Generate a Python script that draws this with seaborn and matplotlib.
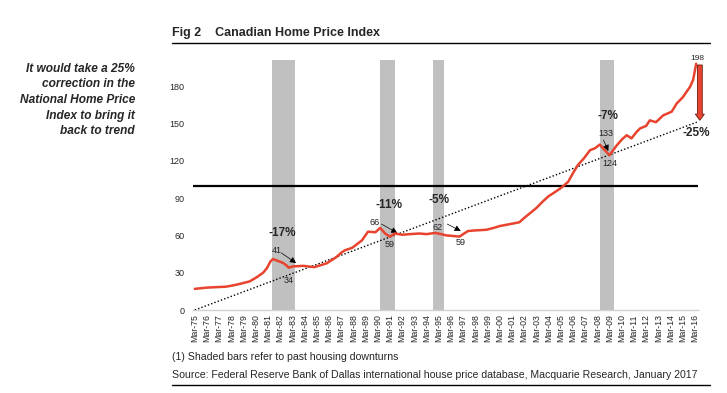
import pandas as pd
import seaborn as sns
import matplotlib
matplotlib.use("Agg")
import matplotlib.pyplot as plt
from matplotlib.lines import Line2D

# Canadian home price index (decimal year, index value)
hpi_year = [1975.0, 1975.5, 1976.0, 1977.0, 1977.5, 1978.0, 1978.7, 1979.5, 1980.1, 1980.6,
            1980.9, 1981.2, 1981.4, 1981.8, 1982.2, 1982.5, 1982.7, 1983.0, 1983.9, 1984.3,
            1984.8, 1985.3, 1985.8, 1986.2, 1986.6, 1987.0, 1987.3, 1987.9, 1988.3, 1988.7,
            1989.2, 1989.8, 1990.2, 1990.6, 1991.0, 1991.4, 1992.0, 1992.6, 1993.4, 1994.0,
            1994.7, 1995.2, 1995.6, 1996.2, 1996.7, 1997.0, 1997.4, 1998.0, 1998.9, 1999.5,
            2000.0, 2000.8, 2001.6, 2002.0, 2002.5, 2003.0, 2003.5, 2004.0, 2004.4, 2005.0,
            2005.6, 2006.0, 2006.4, 2006.9, 2007.4, 2007.8, 2008.2, 2008.6, 2009.0, 2009.6,
            2010.0, 2010.4, 2010.8, 2011.2, 2011.5, 2012.0, 2012.3, 2012.8, 2013.4, 2014.1,
            2014.5, 2015.0, 2015.6, 2015.85, 2016.1]
hpi_value = [17, 17.5, 18, 18.5, 18.7, 19.5, 21, 23, 26.5, 30,
             33.5, 39, 41, 39.5, 38, 36, 34, 35, 35.5, 35,
             34.5, 36, 37.5, 40, 42.5, 46, 48, 50, 53, 56,
             63, 62.5, 66, 61.5, 59, 61.5, 60.5, 61, 61.5, 61,
             62, 61, 60, 59.5, 59, 61, 63.5, 64, 64.5, 66,
             67.5, 69, 70.5, 74, 78, 82, 87, 91.5, 94, 98,
             103, 110, 116.5, 122, 128.5, 130, 133, 128.5, 124.5, 132.5,
             137, 140.5, 138, 143, 146, 148, 152.5, 151, 156.5, 159.5,
             166, 171, 179.5, 185, 198]

trend_year = [1975.0, 2016.15]
trend_value = [0, 151]

downturns = [(1981.3, 1983.2), (1990.2, 1991.4), (1994.5, 1995.4), (2008.2, 2009.4)]

tick_years = list(range(1975, 2017))
tick_labels = ["Mar-%02d" % (y % 100) for y in tick_years]

# (drop text, pos, peak label, pos, trough label, pos, arrow tail, arrow head)
drops = [("-17%", (1982.2, 62), "41", (1981.7, 47.5), "34", (1982.7, 24), (1982.1, 45.8), (1983.3, 37.8)),
         ("-11%", (1990.9, 84.5), "66", (1989.7, 70.5), "59", (1991.0, 53), (1990.3, 69.1), (1991.6, 61.9)),
         ("-5%", (1995.0, 88.5), "62", (1994.9, 66.5), "59", (1996.8, 54), (1995.7, 69.1), (1996.8, 63.5)),
         ("-7%", (2008.9, 156), "133", (2008.7, 142), "124", (2009.0, 118), (2008.5, 136.6), (2008.9, 127.8))]

df = pd.DataFrame({"year": hpi_year, "hpi": hpi_value})
red = "#E8432E"

sns.set_theme(style="white")
plt.rcParams["font.family"] = ["Liberation Sans", "DejaVu Sans"]

fig = plt.figure(figsize=(7.27, 3.93), dpi=100)
ax = fig.add_axes([193 / 727, 1 - 310 / 393, 505 / 727, 250 / 393])

for a, b in downturns:
    ax.axvspan(a, b, color="#C0C0C0", lw=0, zorder=0)

ax.axhline(100, color="black", lw=1.6, zorder=2)
ax.plot(trend_year, trend_value, color="black", lw=1.0, ls=(0, (1, 1.5)), zorder=3)
sns.lineplot(data=df, x="year", y="hpi", color=red, lw=1.8, ax=ax, zorder=4)

for big, bpos, hi, hpos, lo, lpos, tail, head in drops:
    ax.text(*bpos, big, fontsize=8.5, fontweight="bold", ha="center", va="center")
    ax.text(*hpos, hi, fontsize=6.5, ha="center", va="center", color="#222222")
    ax.text(*lpos, lo, fontsize=6.5, ha="center", va="center", color="#222222")
    ax.annotate("", xy=head, xytext=tail,
                arrowprops=dict(arrowstyle="-|>,head_length=0.6,head_width=0.3", color="black",
                                lw=0.5, mutation_scale=6, shrinkA=0, shrinkB=0))

ax.text(2016.2, 202.5, "198", fontsize=6, ha="center", va="center", clip_on=False)
ax.arrow(2016.4, 197, 0, -44.5, width=0.4, head_width=0.75, head_length=5,
         length_includes_head=True, fc=red, ec="#6B1A10", lw=0.6, clip_on=False, zorder=5)
ax.text(2016.1, 142.5, "-25%", fontsize=8.5, fontweight="bold", ha="center", va="center", clip_on=False)

ax.set_xlim(1974.85, 2016.25)
ax.set_ylim(0, 201)
ax.set_yticks(range(0, 181, 30))
ax.set_xticks(tick_years)
ax.set_xticklabels(tick_labels, rotation=90, fontsize=6.3)
ax.tick_params(axis="y", labelsize=6.5, length=0, pad=6)
ax.tick_params(axis="x", length=0, pad=3)
ax.set_xlabel("")
ax.set_ylabel("")
for s in ["top", "right", "left"]:
    ax.spines[s].set_visible(False)
ax.spines["bottom"].set_color("#D0D0D0")
ax.spines["bottom"].set_linewidth(1.0)

fig.text(172 / 727, 1 - 33 / 393, "Fig 2    Canadian Home Price Index",
         fontsize=9, fontweight="bold", va="center")
fig.add_artist(Line2D([172 / 727, 710 / 727], [1 - 43 / 393] * 2, color="black", lw=1.0))

fig.text(135 / 727, 1 - 100 / 393,
         "It would take a 25%\ncorrection in the\nNational Home Price\nIndex to bring it\nback to trend",
         fontsize=8.6, fontweight="bold", style="italic", ha="right", va="center", linespacing=1.4)

fig.text(172 / 727, 1 - 357 / 393, "(1) Shaded bars refer to past housing downturns",
         fontsize=7.6, va="center")
fig.text(172 / 727, 1 - 375 / 393,
         "Source: Federal Reserve Bank of Dallas international house price database, Macquarie Research, January 2017",
         fontsize=7.6, va="center")
fig.add_artist(Line2D([172 / 727, 710 / 727], [1 - 385 / 393] * 2, color="black", lw=1.0))

fig.savefig("out.png", dpi=100)
